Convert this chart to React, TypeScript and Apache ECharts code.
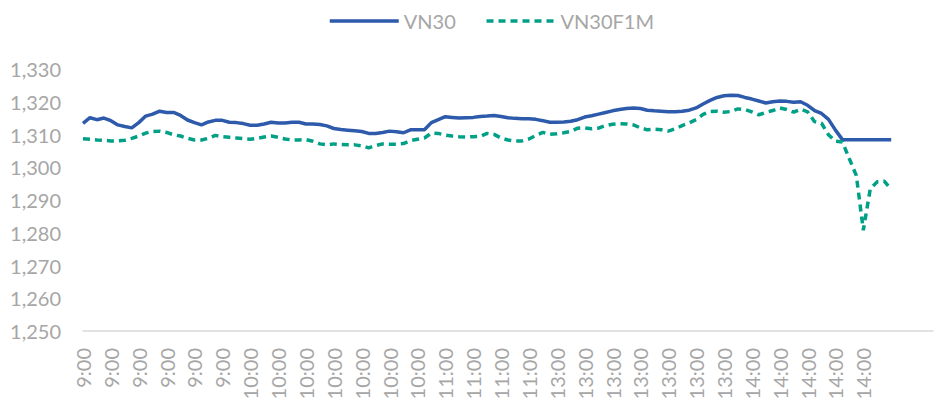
import React, { useEffect, useRef } from "react";
import * as echarts from "echarts";

// Tick labels shown every POINTS_PER_TICK categories
const tickLabels = [
  "9:00", "9:00", "9:00", "9:00", "9:00", "9:00",
  "10:00", "10:00", "10:00", "10:00", "10:00", "10:00", "10:00",
  "11:00", "11:00", "11:00", "11:00",
  "13:00", "13:00", "13:00", "13:00", "13:00", "13:00", "13:00",
  "14:00", "14:00", "14:00", "14:00", "14:00",
];
const POINTS_PER_TICK = 4;
const TOTAL_CATEGORIES = 123;

const vn30 = [
  1313.5, 1315.2, 1314.6, 1315.1, 1314.3, 1313.0, 1312.5, 1312.1, 1313.7, 1315.7,
  1316.3, 1317.2, 1316.8, 1316.8, 1315.9, 1314.5, 1313.7, 1313.0, 1313.9, 1314.4,
  1314.4, 1313.8, 1313.7, 1313.4, 1312.9, 1312.9, 1313.3, 1313.8, 1313.6, 1313.6,
  1313.8, 1313.8, 1313.3, 1313.3, 1313.1, 1312.7, 1311.9, 1311.6, 1311.4, 1311.2,
  1311.0, 1310.4, 1310.4, 1310.7, 1311.1, 1310.9, 1310.6, 1311.5, 1311.5, 1311.5,
  1313.7, 1314.6, 1315.5, 1315.3, 1315.1, 1315.2, 1315.3, 1315.6, 1315.7, 1315.9,
  1315.6, 1315.2, 1315.0, 1314.9, 1314.9, 1314.7, 1314.3, 1313.8, 1313.8, 1313.9,
  1314.1, 1314.6, 1315.4, 1315.8, 1316.3, 1316.8, 1317.3, 1317.7, 1318.0, 1318.2,
  1318.0, 1317.5, 1317.3, 1317.2, 1317.0, 1317.0, 1317.2, 1317.5, 1318.2, 1319.4,
  1320.5, 1321.4, 1321.9, 1322.1, 1322.0, 1321.4, 1320.9, 1320.3, 1319.7, 1320.1,
  1320.3, 1320.2, 1319.9, 1320.1, 1319.0, 1317.4, 1316.5, 1314.7, 1311.4, 1308.5,
  1308.5, 1308.5, 1308.5, 1308.5, 1308.5, 1308.5, 1308.5,
];

const vn30f1m = [
  1308.8, 1308.6, 1308.4, 1308.3, 1308.1, 1308.1, 1308.3, 1308.9, 1309.6, 1310.5,
  1311.0, 1311.1, 1310.7, 1310.0, 1309.6, 1308.9, 1308.4, 1308.4, 1308.9, 1309.8,
  1309.4, 1309.2, 1309.0, 1308.8, 1308.6, 1308.9, 1309.3, 1309.6, 1309.2, 1308.7,
  1308.4, 1308.4, 1308.5, 1308.0, 1307.2, 1306.9, 1307.2, 1307.0, 1306.9, 1306.9,
  1306.6, 1306.0, 1306.7, 1307.2, 1307.1, 1307.1, 1307.3, 1308.2, 1308.6, 1309.0,
  1310.5, 1310.4, 1309.9, 1309.6, 1309.4, 1309.3, 1309.4, 1309.5, 1310.4, 1310.1,
  1309.0, 1308.4, 1308.1, 1308.1, 1308.7, 1309.8, 1310.7, 1310.1, 1310.3, 1310.6,
  1311.0, 1312.0, 1312.1, 1311.8, 1312.0, 1312.8, 1313.2, 1313.4, 1313.3, 1313.0,
  1312.1, 1311.5, 1311.7, 1311.5, 1311.1, 1311.8, 1312.8, 1313.6, 1314.6, 1316.2,
  1317.1, 1317.2, 1316.9, 1317.1, 1317.9, 1317.7, 1317.0, 1316.1, 1316.8, 1317.4,
  1318.2, 1317.7, 1316.9, 1317.8, 1317.0, 1314.0, 1313.5, 1310.0, 1308.0, 1307.8,
  1302.6, 1297.5, 1280.8, 1293.5, 1295.6, 1295.8, 1293.3,
];

const yMin = 1250;
const yMax = 1330;
const yStep = 10;

export default function App() {
  const ref = useRef<HTMLDivElement>(null);

  useEffect(() => {
    if (!ref.current) return;
    const chart = echarts.init(ref.current, null, { renderer: "svg" });
    const categories = Array.from({ length: TOTAL_CATEGORIES }, (_, i) => String(i));
    const labelColor = "#A6A6A6";
    const font = "Lato, 'Noto Sans', sans-serif";
    chart.setOption({
      animation: false,
      backgroundColor: "#ffffff",
      legend: {
        left: 323,
        top: 6,
        itemWidth: 69,
        itemHeight: 14,
        itemGap: 29,
        itemStyle: { opacity: 0 },
        lineStyle: { width: 3.5 },
        textStyle: { color: labelColor, fontSize: 20, fontFamily: font },
        data: ["VN30", "VN30F1M"],
      },
      grid: { left: 83, right: 4, top: 69.3, bottom: 72, containLabel: false },
      xAxis: {
        type: "category",
        boundaryGap: false,
        data: categories,
        axisLine: { show: true, lineStyle: { color: "#D9D9D9", width: 1.5 } },
        axisTick: { show: false },
        splitLine: { show: false },
        axisLabel: {
          rotate: 90,
          margin: 17,
          color: labelColor,
          fontSize: 20,
          fontFamily: font,
          interval: (idx: number) =>
            idx % POINTS_PER_TICK === 0 && idx / POINTS_PER_TICK < tickLabels.length,
          formatter: (_v: string, idx: number) =>
            idx % POINTS_PER_TICK === 0 ? tickLabels[idx / POINTS_PER_TICK] ?? "" : "",
        },
      },
      yAxis: {
        type: "value",
        min: yMin,
        max: yMax,
        interval: yStep,
        axisLine: { show: false },
        axisTick: { show: false },
        splitLine: { show: false },
        axisLabel: {
          margin: 22,
          color: labelColor,
          fontSize: 20,
          fontFamily: font,
          formatter: (v: number) => v.toLocaleString("en-US"),
        },
      },
      series: [
        {
          name: "VN30",
          type: "line",
          data: vn30,
          symbol: "none",
          lineStyle: { color: "#2D5AAA", width: 3.5 },
          itemStyle: { color: "#2D5AAA" },
        },
        {
          name: "VN30F1M",
          type: "line",
          data: vn30f1m,
          symbol: "none",
          lineStyle: { color: "#00A086", width: 3.5, type: [7, 5] },
          itemStyle: { color: "#00A086" },
        },
      ],
    });
    return () => chart.dispose();
  }, []);

  return (
    <div
      ref={ref}
      style={{ position: "fixed", left: 0, top: 0, width: 937, height: 403 }}
    />
  );
}
